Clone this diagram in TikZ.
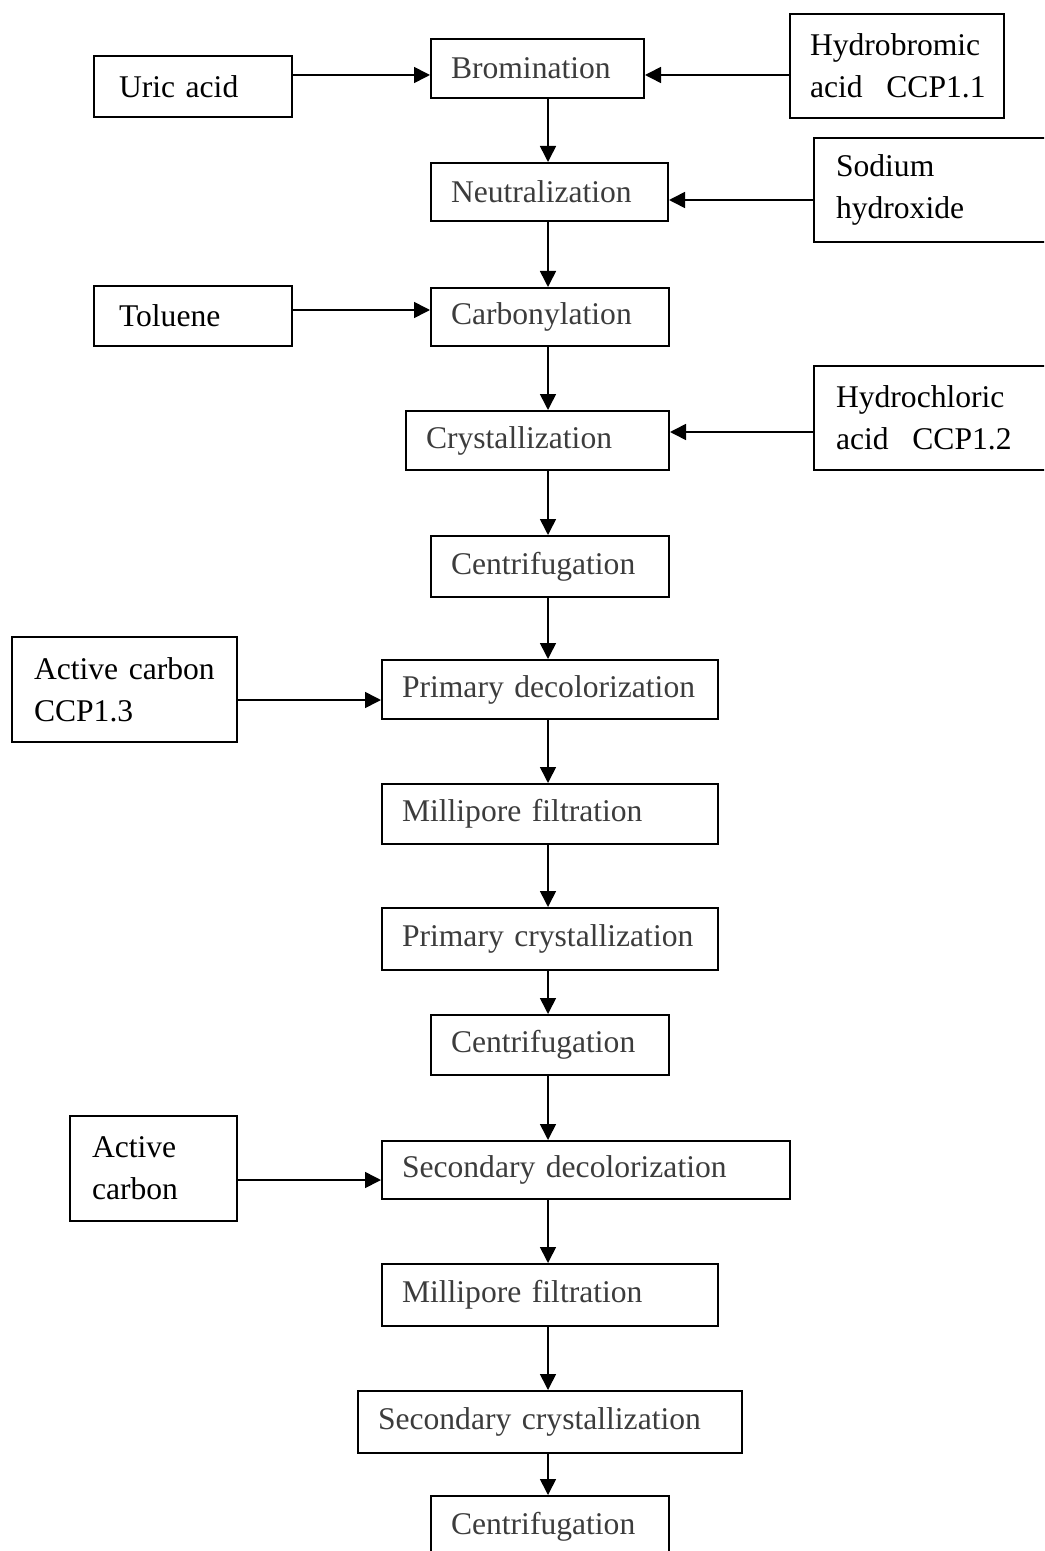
\documentclass[tikz,border=0pt]{standalone}
\usepackage{fontspec}
\setmainfont{Liberation Serif}
\usetikzlibrary{arrows.meta}
\definecolor{procgray}{HTML}{3C3C3C}
\tikzset{
  boxbase/.style={draw, line width=1pt, anchor=north west, inner ysep=0pt, align=left,
    font=\fontsize{15.8pt}{21pt}\selectfont},
  proc/.style={boxbase, inner xsep=10pt, text=procgray},
  side/.style={boxbase, inner xsep=11pt, text=black},
  arr/.style={line width=0.8pt, -{Triangle[length=8pt,width=8pt]}}
}
\begin{document}
\begin{tikzpicture}[x=0.5pt,y=-0.5pt]
\useasboundingbox (0,0) rectangle (1044,1551);
\clip (0,0) rectangle (1044,1551);
% process column
\node[proc, text width=86.5pt, minimum height=29.5pt] (brom)  at (430,38)   {Bromination};
\node[proc, text width=98.5pt, minimum height=29pt]   (neut)  at (430,162)  {Neutralization};
\node[proc, text width=99pt,   minimum height=29pt]   (carb)  at (430,287)  {Carbonylation};
\node[proc, text width=111.5pt,minimum height=29.5pt] (cryst) at (405,410)  {Crystallization};
\node[proc, text width=99pt,   minimum height=30.5pt] (centa) at (430,535)  {Centrifugation};
\node[proc, text width=148pt,  minimum height=29.5pt] (pdec)  at (381,659)  {Primary decolorization};
\node[proc, text width=148pt,  minimum height=30pt]   (mfa)   at (381,783)  {Millipore filtration};
\node[proc, text width=148pt,  minimum height=31pt]   (pcr)   at (381,907)  {Primary crystallization};
\node[proc, text width=99pt,   minimum height=30pt]   (centb) at (430,1014) {Centrifugation};
\node[proc, text width=184pt,  minimum height=29pt]   (sdec)  at (381,1140) {Secondary decolorization};
\node[proc, text width=148pt,  minimum height=31pt]   (mfb)   at (381,1263) {Millipore filtration};
\node[proc, text width=172pt,  minimum height=31pt]   (scr)   at (357,1390) {Secondary crystallization};
\node[proc, text width=99pt,   minimum height=31pt]   (centc) at (430,1495) {Centrifugation};
% side inputs
\node[side, text width=74pt,  minimum height=30.5pt, inner xsep=12.5pt] (uric) at (93,55)  {Uric acid};
\node[side, text width=87pt,  minimum height=52pt, inner xsep=10pt]   (hbr)  at (789,13)  {Hydrobromic\\\mbox{acid\hspace{0.75em}CCP1.1}};
\node[side, text width=98pt,  minimum height=52pt]   (naoh) at (813,137) {Sodium\\hydroxide};
\node[side, text width=74pt,  minimum height=30pt, inner xsep=12.5pt]   (tol)  at (93,285) {Toluene};
\node[side, text width=98pt,  minimum height=52pt]   (hcl)  at (813,365) {Hydrochloric\\\mbox{acid\hspace{0.75em}CCP1.2}};
\node[side, text width=90.5pt,minimum height=52.5pt] (aca)  at (11,636)  {Active carbon\\CCP1.3};
\node[side, text width=61.5pt,minimum height=52.5pt] (acb)  at (69,1115) {Active\\carbon};
% helper coordinates
\coordinate (col) at (548,0);
\coordinate (ra) at (0,75);
\coordinate (rb) at (0,200);
\coordinate (rc) at (0,310);
\coordinate (rd) at (0,432);
\coordinate (re) at (0,700);
\coordinate (rf) at (0,1180);
% vertical flow
\draw[arr] (brom.south -| col)  -- (neut.north -| col);
\draw[arr] (neut.south -| col)  -- (carb.north -| col);
\draw[arr] (carb.south -| col)  -- (cryst.north -| col);
\draw[arr] (cryst.south -| col) -- (centa.north -| col);
\draw[arr] (centa.south -| col) -- (pdec.north -| col);
\draw[arr] (pdec.south -| col)  -- (mfa.north -| col);
\draw[arr] (mfa.south -| col)   -- (pcr.north -| col);
\draw[arr] (pcr.south -| col)   -- (centb.north -| col);
\draw[arr] (centb.south -| col) -- (sdec.north -| col);
\draw[arr] (sdec.south -| col)  -- (mfb.north -| col);
\draw[arr] (mfb.south -| col)   -- (scr.north -| col);
\draw[arr] (scr.south -| col)   -- (centc.north -| col);
% side inputs
\draw[arr] (uric.east |- ra) -- (brom.west |- ra);
\draw[arr] (hbr.west |- ra)  -- (brom.east |- ra);
\draw[arr] (naoh.west |- rb) -- (neut.east |- rb);
\draw[arr] (tol.east |- rc)  -- (carb.west |- rc);
\draw[arr] (hcl.west |- rd)  -- (cryst.east |- rd);
\draw[arr] (aca.east |- re)  -- (pdec.west |- re);
\draw[arr] (acb.east |- rf)  -- (sdec.west |- rf);
\end{tikzpicture}
\end{document}
